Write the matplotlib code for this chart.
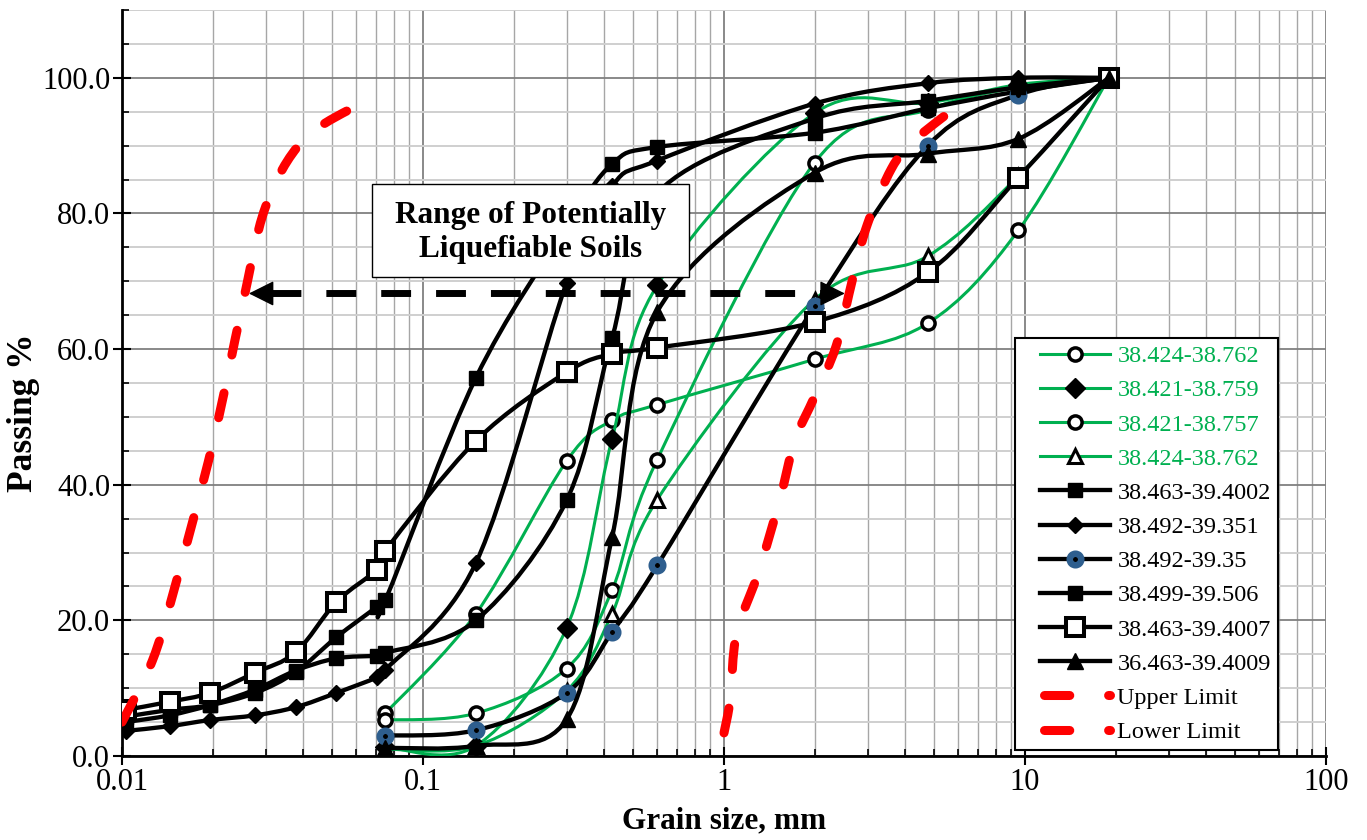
import numpy as np
import matplotlib.pyplot as plt
from matplotlib.path import Path
from matplotlib.patches import PathPatch, Rectangle
from matplotlib.lines import Line2D
from matplotlib.legend_handler import HandlerLine2D
from matplotlib.ticker import MultipleLocator, FixedLocator, LogLocator, NullFormatter

plt.rcParams['font.family'] = ['Liberation Serif', 'DejaVu Serif']

# grain sizes (mm)
sieve_mm = [0.075, 0.15, 0.3, 0.425, 0.6, 2.0, 4.75, 9.5, 19.0]
hydro_mm = [0.0103, 0.0144, 0.0196, 0.0277, 0.0378, 0.0515, 0.0703]
full_mm = hydro_mm + sieve_mm

# passing % for each sample
p_38424_38762a = [6.3, 21.0, 43.5, 49.5, 51.8, 58.5, 63.8, 77.5, 100]
p_38421_38759 = [1.3, 1.5, 18.9, 46.8, 69.4, 94.8, 96.3, 99.0, 100]
p_38421_38757 = [5.3, 6.3, 12.9, 24.5, 43.7, 87.5, 95.3, 98.6, 100]
p_38424_38762b = [1.0, 1.5, 9.6, 21.0, 37.8, 67.3, 73.7, 85.5, 100]
p_38463_394002 = [5.8, 6.8, 7.5, 9.3, 12.4, 17.5, 22.0, 23.0, 55.8, 78.0, 87.3, 89.8, 91.9, 95.5, 98.0, 100]
p_38492_39351 = [3.7, 4.4, 5.3, 6.0, 7.2, 9.3, 11.6, 12.7, 28.5, 69.8, 84.0, 87.8, 96.2, 99.2, 100, 100]
p_38492_3935 = [3.0, 3.8, 9.3, 18.3, 28.1, 66.3, 90.0, 97.5, 100]
p_38499_39506 = [5.0, 6.0, 7.5, 9.8, 12.6, 14.4, 14.8, 15.2, 20.0, 37.7, 61.7, 83.0, 94.0, 96.6, 98.6, 100]
p_38463_394007 = [6.8, 8.0, 9.3, 12.3, 15.3, 22.7, 27.5, 30.3, 46.5, 56.6, 59.3, 60.2, 64.0, 71.3, 85.3, 100]
p_36463_394009 = [1.2, 1.5, 5.4, 32.3, 65.5, 86.0, 88.8, 91.0, 100]

# liquefiable range boundaries
upper_mm = [0.01, 0.0126, 0.015, 0.02, 0.025, 0.03, 0.04, 0.062]
upper_p = [5.0, 14.0, 25.0, 46.0, 66.0, 81.0, 90.8, 96.2]
lower_mm = [1.0, 1.05, 1.1, 1.3, 1.53, 1.72, 2.0, 2.36, 2.68, 3.0, 3.6, 4.2, 5.3, 6.2]
lower_p = [3.4, 8.5, 18.0, 27.0, 37.7, 46.5, 53.0, 60.5, 70.5, 78.5, 86.6, 90.4, 94.1, 96.3]

labels = ['38.424-38.762', '38.421-38.759', '38.421-38.757', '38.424-38.762',
          '38.463-39.4002', '38.492-39.351', '38.492-39.35', '38.499-39.506',
          '38.463-39.4007', '36.463-39.4009']

green = '#00B050'
blue = '#2E5E8E'
red = '#FF0000'


def smooth_path(xs, ys):
    # excel-like smoothed line: cubic bezier through points in (log x, y)
    pts = np.column_stack([np.log10(xs), ys]).astype(float)
    n = len(pts)
    verts = [pts[0]]
    codes = [Path.MOVETO]
    for i in range(n - 1):
        p0 = pts[max(i - 1, 0)]
        p1 = pts[i]
        p2 = pts[i + 1]
        p3 = pts[min(i + 2, n - 1)]
        verts += [p1 + (p2 - p0) / 6, p2 - (p3 - p1) / 6, p2]
        codes += [Path.CURVE4] * 3
    verts = np.array(verts)
    verts[:, 0] = 10 ** verts[:, 0]
    return Path(verts, codes)


fig = plt.figure(figsize=(13.67, 8.4), dpi=100)
ax = fig.add_axes([122 / 1367, 1 - 756 / 840, 1204 / 1367, 746 / 840])

series = [
    (sieve_mm, p_38424_38762a, green, 2.2, dict(marker='o', ms=9.5, mfc='white', mec='k', mew=2.5)),
    (sieve_mm, p_38421_38759, green, 2.2, dict(marker='D', ms=10, mfc='k', mec='k', mew=1)),
    (sieve_mm, p_38421_38757, green, 2.2, dict(marker='o', ms=9.5, mfc='white', mec='k', mew=2.5)),
    (sieve_mm, p_38424_38762b, green, 2.2, dict(marker='^', ms=10, mfc='white', mec='k', mew=2.2)),
    (full_mm, p_38463_394002, 'k', 3.1, dict(marker='s', ms=10, mfc='k', mec='k', mew=1)),
    (full_mm, p_38492_39351, 'k', 3.1, dict(marker='D', ms=8, mfc='k', mec='k', mew=1)),
    (sieve_mm, p_38492_3935, 'k', 3.1, dict(marker='o', ms=8.3, mfc='k', mec=blue, mew=4.7)),
    (full_mm, p_38499_39506, 'k', 3.1, dict(marker='s', ms=10, mfc='k', mec='k', mew=1)),
    (full_mm, p_38463_394007, 'k', 3.1, dict(marker='s', ms=13.5, mfc='white', mec='k', mew=2.9)),
    (sieve_mm, p_36463_394009, 'k', 3.1, dict(marker='^', ms=12, mfc='k', mec='k', mew=1)),
]

handles = []
for i, (xs, ys, col, lw, mk) in enumerate(series):
    z = 3 + i * 0.1
    ax.add_patch(PathPatch(smooth_path(xs, ys), fill=False, edgecolor=col, lw=lw,
                           capstyle='round', joinstyle='round', zorder=z))
    ax.plot(xs, ys, linestyle='none', zorder=z + 0.05, **mk)
    handles.append(Line2D([], [], color=col, lw=lw, **mk))

red_dash = (0, (2.8, 4.3))
for xs, ys in [(upper_mm, upper_p), (lower_mm, lower_p)]:
    ax.add_patch(PathPatch(smooth_path(xs, ys), fill=False, edgecolor=red, lw=6.5,
                           linestyle=red_dash, capstyle='round', zorder=5))
ul_h = Line2D([], [], color=red, lw=6.5, linestyle=red_dash, dash_capstyle='round')
ll_h = Line2D([], [], color=red, lw=6.5, linestyle=red_dash, dash_capstyle='round')

# range arrow
arr_y = 68.2
ax.plot([0.0312, 2.15], [arr_y, arr_y], color='k', lw=5, dashes=(4.3, 3.6),
        solid_capstyle='butt', dash_capstyle='butt', zorder=6)
for tip, tail in [(0.0264, 0.0312), (2.52, 2.15)]:
    ax.annotate('', xy=(tip, arr_y), xytext=(tail, arr_y),
                arrowprops=dict(arrowstyle='-|>,head_length=1.0,head_width=0.5',
                                mutation_scale=16, color='k', lw=1,
                                shrinkA=0, shrinkB=0), zorder=6)

# text box
ax.add_patch(Rectangle((0.2076, 0.642), 0.2633, 0.1248, transform=ax.transAxes,
                       facecolor='white', edgecolor='k', lw=1, zorder=7))
ax.text(0.339, 0.702, 'Range of Potentially\nLiquefiable Soils', transform=ax.transAxes,
        ha='center', va='center', fontsize=22.5, fontweight='bold', linespacing=1.22,
        zorder=8)

ax.set_xscale('log')
ax.set_xlim(0.01, 100)
ax.set_ylim(0, 110)
ax.xaxis.set_major_locator(FixedLocator([0.01, 0.1, 1, 10, 100]))
ax.set_xticklabels(['0.01', '0.1', '1', '10', '100'])
ax.xaxis.set_minor_locator(LogLocator(base=10, subs=np.arange(2, 10)))
ax.xaxis.set_minor_formatter(NullFormatter())
ax.yaxis.set_major_locator(FixedLocator([0, 20, 40, 60, 80, 100]))
ax.set_yticklabels([f'{v:.1f}' for v in [0, 20, 40, 60, 80, 100]])
ax.yaxis.set_minor_locator(MultipleLocator(5))

ax.tick_params(axis='both', which='major', direction='inout', length=13, width=1.5,
               labelsize=22, pad=2)
ax.tick_params(axis='both', which='minor', direction='in', length=5, width=1.2)

ax.set_axisbelow(True)
ax.grid(True, which='major', axis='both', color='#808080', lw=1.3)
ax.grid(True, which='minor', axis='x', color='#a6a6a6', lw=1.0)
ax.grid(True, which='minor', axis='y', color='#cfcfcf', lw=1.4)

for s in ['top', 'right']:
    ax.spines[s].set_visible(False)
for s in ['left', 'bottom']:
    ax.spines[s].set_linewidth(2)

ax.set_xlabel('Grain size, mm', fontsize=22.5, fontweight='bold')
ax.xaxis.set_label_coords(0.5, (756 - 806) / 746)
ax.set_ylabel('Passing %', fontsize=25.5, fontweight='bold')
ax.yaxis.set_label_coords((40 - 122) / 1204, 0.46)

hmap = {h: HandlerLine2D(xpad=0.74) for h in handles}
hmap[ul_h] = HandlerLine2D(xpad=0.9)
hmap[ll_h] = HandlerLine2D(xpad=0.9)
leg = ax.legend(handles + [ul_h, ll_h], labels + ['Upper Limit', 'Lower Limit'],
                loc='upper left', bbox_to_anchor=(1015 / 1367, 1 - 338 / 840),
                bbox_transform=fig.transFigure, borderaxespad=0, fontsize=17.5,
                frameon=True, fancybox=False, framealpha=1, edgecolor='k',
                borderpad=0.3, handlelength=3.62, handletextpad=0.29,
                labelspacing=0.5, handler_map=hmap)
leg.get_frame().set_linewidth(1.5)
leg.set_zorder(10)
for t in leg.get_texts()[:4]:
    t.set_color(green)

fig.savefig('out.png', dpi=100)
